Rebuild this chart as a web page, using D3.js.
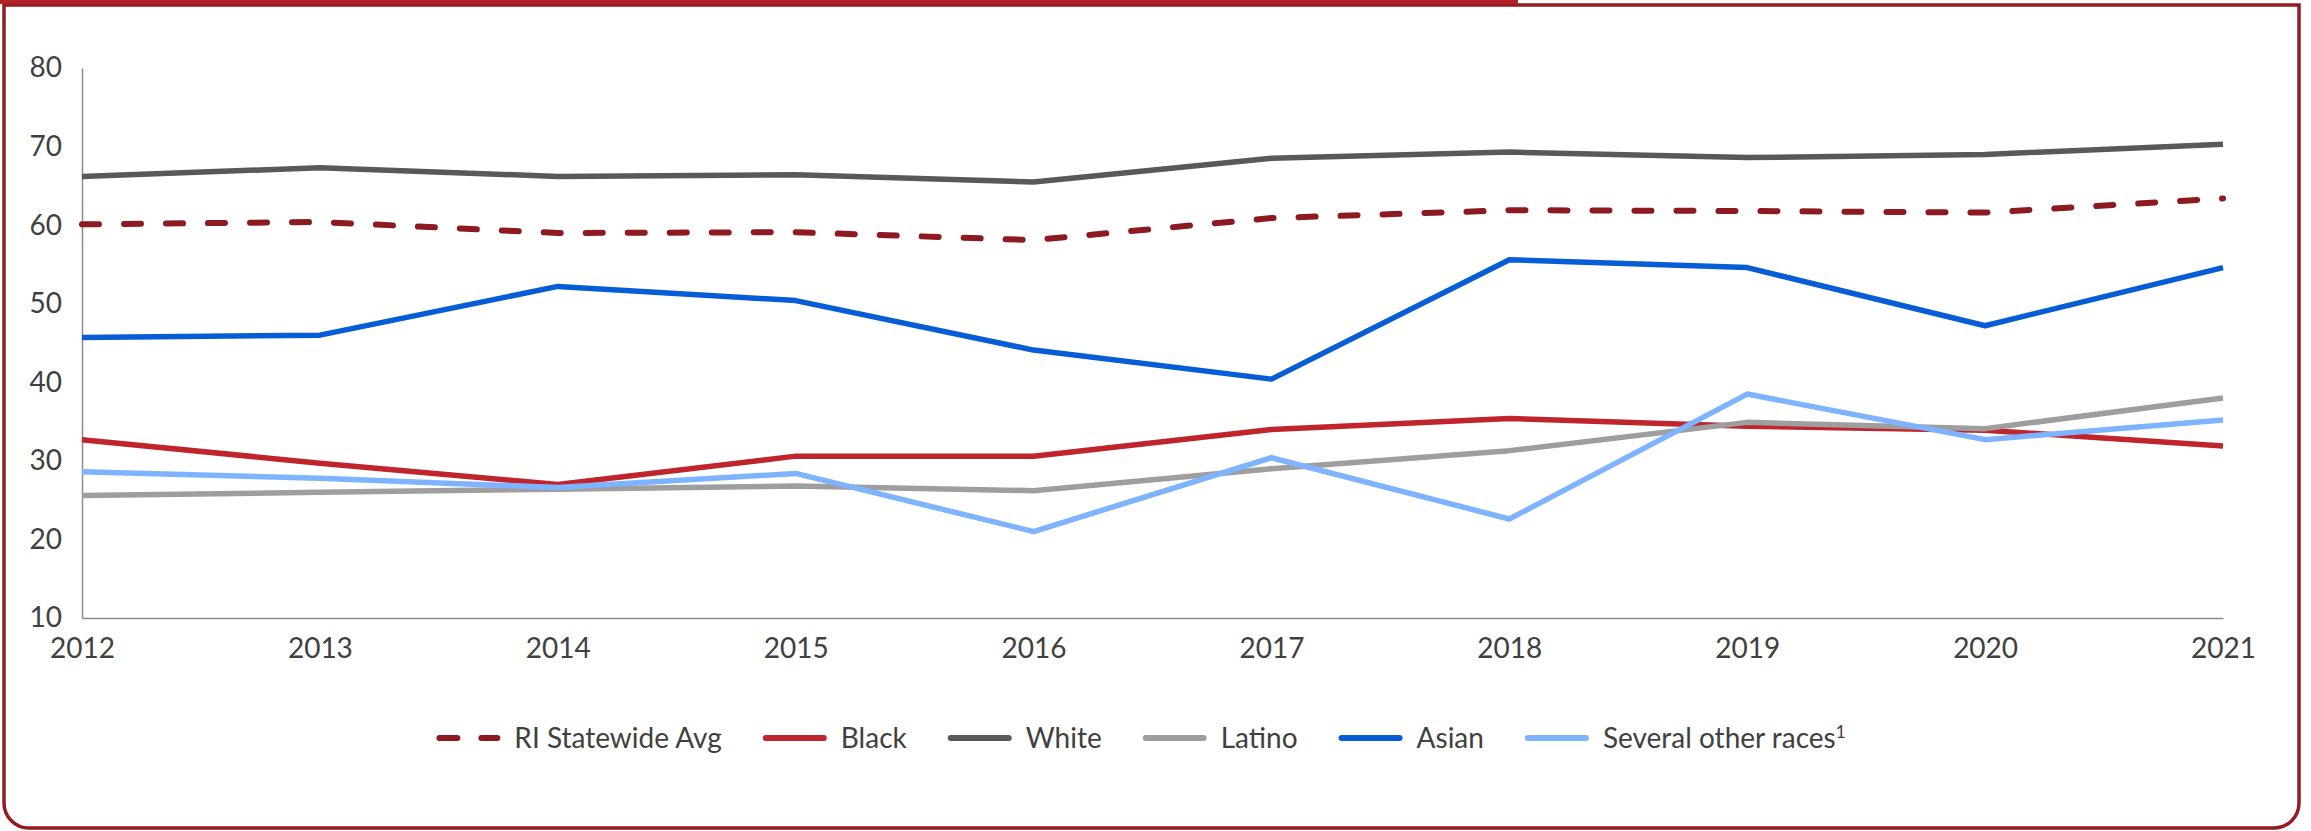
<!doctype html>
<html lang="en">
<head>
    <meta charset="UTF-8">
    <title>RI rates by race</title>
    <style>
        body { margin: 0; background: #fff; }
        text { font-family: Lato, "Open Sans", sans-serif; fill: #404040; }
    </style>
</head>
<body>
<div class="canvas"></div>
<script src="https://d3js.org/d3.v7.min.js"></script>
<script>
    const years = [2012, 2013, 2014, 2015, 2016, 2017, 2018, 2019, 2020, 2021];
    const riAvg = [60.1, 60.4, 59.0, 59.1, 58.1, 60.9, 61.9, 61.8, 61.6, 63.4];
    const black = [32.7, 29.7, 27.0, 30.6, 30.6, 34.0, 35.4, 34.4, 33.9, 31.9];
    const white = [66.2, 67.3, 66.2, 66.4, 65.5, 68.5, 69.3, 68.6, 69.0, 70.3];
    const latino = [25.6, 26.0, 26.4, 26.8, 26.2, 29.0, 31.3, 34.9, 34.1, 38.0];
    const asian = [45.7, 46.0, 52.2, 50.4, 44.1, 40.4, 55.6, 54.6, 47.2, 54.6];
    const otherRaces = [28.6, 27.8, 26.6, 28.4, 21.0, 30.4, 22.6, 38.5, 32.7, 35.2];
    const yTicks = [10, 20, 30, 40, 50, 60, 70, 80];

    const series = [
        { name: 'RI Statewide Avg', values: riAvg, color: '#8e1a21', dashed: true },
        { name: 'Black', values: black, color: '#c0242c' },
        { name: 'White', values: white, color: '#595959' },
        { name: 'Latino', values: latino, color: '#9e9e9e' },
        { name: 'Asian', values: asian, color: '#075dd6' },
        { name: 'Several other races', sup: '1', values: otherRaces, color: '#7db3ff' },
    ];

    const svgWidth = 2311;
    const svgHeight = 831;
    const margin = { top: 68, right: 88, bottom: 213, left: 82 };
    const graphWidth = svgWidth - margin.left - margin.right;
    const graphHeight = svgHeight - margin.top - margin.bottom;

    const svg = d3.select('.canvas').append('svg')
        .attr('width', svgWidth)
        .attr('height', svgHeight);

    // frame: bright bar on top, dark red outline with rounded bottom corners
    const fx0 = 4, fy0 = 5, fx1 = 2299, fy1 = 828, r = 25;
    svg.append('path')
        .attr('d', `M${fx0},${fy0} L${fx1},${fy0} L${fx1},${fy1 - r} A${r},${r} 0 0 1 ${fx1 - r},${fy1} L${fx0 + r},${fy1} A${r},${r} 0 0 1 ${fx0},${fy1 - r} Z`)
        .attr('fill', 'none')
        .attr('stroke', '#931b21')
        .attr('stroke-width', 3.5);
    svg.append('rect')
        .attr('x', 0).attr('y', 0)
        .attr('width', 1518).attr('height', 4)
        .attr('fill', '#b3202a');

    const graph = svg.append('g')
        .attr('transform', `translate(${margin.left}, ${margin.top})`);

    const x = d3.scaleLinear()
        .domain(d3.extent(years))
        .range([0, graphWidth]);
    const y = d3.scaleLinear()
        .domain([10, 80])
        .range([graphHeight, 0]);

    const yAxis = d3.axisLeft(y).tickValues(yTicks).tickSize(0).tickPadding(20);
    const xAxis = d3.axisBottom(x).tickValues(years).tickFormat(d3.format('d')).tickSize(0).tickPadding(20);

    const yAxisGroup = graph.append('g').call(yAxis);
    const xAxisGroup = graph.append('g').attr('transform', `translate(0, ${graphHeight})`).call(xAxis);

    [yAxisGroup, xAxisGroup].forEach(g => {
        g.select('.domain').attr('stroke', '#8c8c8c').attr('stroke-width', 1.5);
        g.selectAll('text')
            .style('font-size', '28px')
            .attr('fill', '#404040');
    });

    const line = d3.line()
        .x((d, i) => x(years[i]))
        .y(d => y(d));

    series.forEach(s => {
        graph.append('path')
            .datum(s.values)
            .attr('d', line)
            .attr('fill', 'none')
            .attr('stroke', s.color)
            .attr('stroke-width', s.dashed ? 6 : 5.5)
            .attr('stroke-linejoin', 'round')
            .attr('stroke-linecap', s.dashed ? 'round' : 'butt')
            .attr('stroke-dasharray', s.dashed ? '17,25' : null);
    });

    // legend
    const legend = svg.append('g');
    const legendY = 738;
    const symW = 64, symGap = 14, itemGap = 41;
    let cursor = 0;
    series.forEach(s => {
        const g = legend.append('g');
        g.append('line')
            .attr('x1', 3).attr('x2', symW - 3)
            .attr('y1', 0).attr('y2', 0)
            .attr('stroke', s.color)
            .attr('stroke-width', 6)
            .attr('stroke-linecap', 'round')
            .attr('stroke-dasharray', s.dashed ? '18,24' : null);
        const t = g.append('text')
            .attr('x', symW + symGap)
            .attr('y', 0)
            .attr('dy', '0.35em')
            .style('font-size', '28px')
            .text(s.name);
        if (s.sup) {
            t.append('tspan')
                .attr('dy', '-0.55em')
                .style('font-size', '17px')
                .text(s.sup);
        }
        const w = symW + symGap + t.node().getComputedTextLength();
        g.attr('transform', `translate(${cursor}, ${legendY})`);
        cursor += w + itemGap;
    });
    const totalW = cursor - itemGap;
    legend.attr('transform', `translate(${1141 - totalW / 2}, 0)`);
</script>
</body>
</html>
